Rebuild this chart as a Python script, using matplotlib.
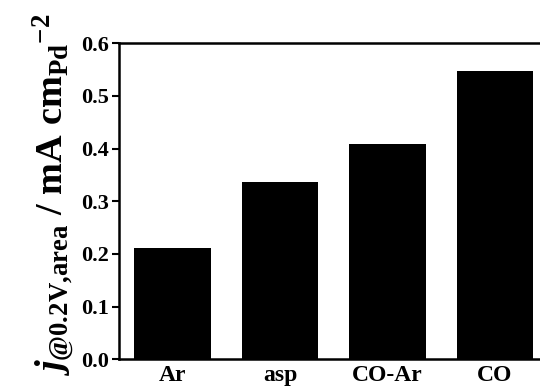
import matplotlib
matplotlib.use("Agg")
import matplotlib.pyplot as plt
import numpy as np

# data
samples = ["Ar", "asp", "CO-Ar", "CO"]
current = [0.212, 0.336, 0.408, 0.548]
yticks = [0.0, 0.1, 0.2, 0.3, 0.4, 0.5, 0.6]

plt.rcParams['font.family'] = 'Liberation Serif'
plt.rcParams['font.weight'] = 'bold'
plt.rcParams['mathtext.fontset'] = 'custom'
plt.rcParams['mathtext.rm'] = 'Liberation Serif:bold'
plt.rcParams['mathtext.it'] = 'Liberation Serif:italic:bold'
plt.rcParams['mathtext.bf'] = 'Liberation Serif:bold'

fig = plt.figure(figsize=(5.4, 3.9), dpi=100)
ax = fig.add_axes([0.2199, 0.0787, 0.7961, 0.8102])

x = np.arange(len(samples))
ax.bar(x, current, width=0.71, color='black')

ax.set_xlim(-0.5, 3.5)
ax.set_ylim(0, 0.6)
ax.set_yticks(yticks)
ax.set_yticklabels(["%.1f" % v for v in yticks], fontsize=16, fontweight='bold')
ax.set_xticks(x)
ax.set_xticklabels(samples, fontsize=17, fontweight='bold')

for s in ax.spines.values():
    s.set_linewidth(1.8)
ax.tick_params(axis='y', direction='out', length=5, width=1.5, pad=2)
ax.tick_params(axis='x', length=0, pad=4)

ax.set_ylabel(r'$\mathit{j}_{\mathrm{@0.2V{,}area}}\ \mathrm{/\ mA\ cm}_{\mathrm{Pd}}{}^{\mathrm{-2}}$',
              fontsize=27.5)
ax.yaxis.set_label_coords(-0.1, 0.52)

fig.savefig("out.png", dpi=100)
